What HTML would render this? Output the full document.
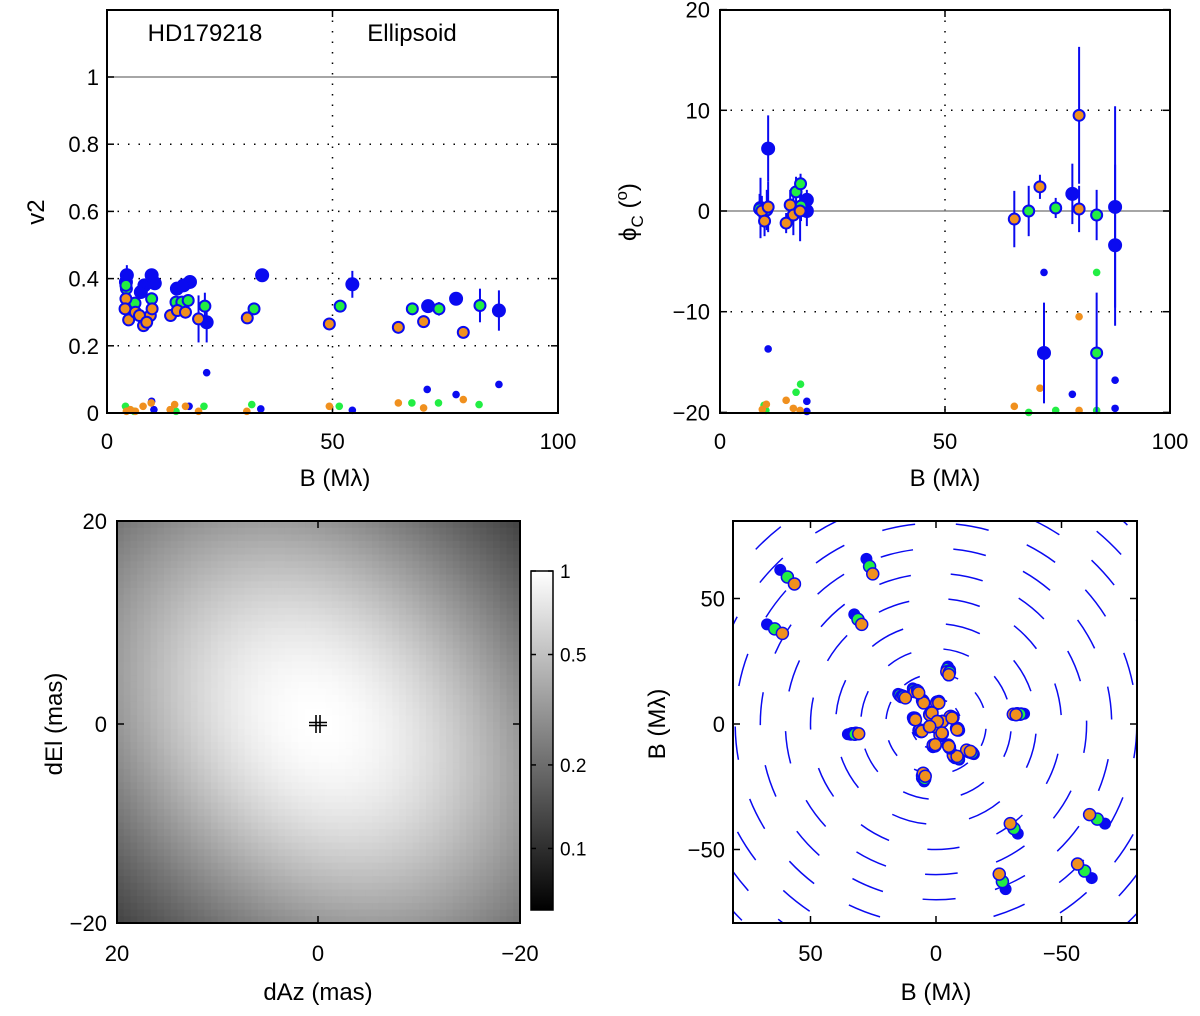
<!DOCTYPE html>
<html><head><meta charset="utf-8">
<style>
html,body{margin:0;padding:0;background:#fff;width:1200px;height:1016px;overflow:hidden;}
svg{position:absolute;left:0;top:0;display:block;font-family:"Liberation Sans",sans-serif;}
</style></head>
<body>
<svg id="fig" width="1200" height="1016" viewBox="0 0 1200 1016" xmlns="http://www.w3.org/2000/svg">
<defs>
<clipPath id="clipUV"><rect x="733" y="521" width="404" height="402"/></clipPath>
<linearGradient id="cbar" x1="0" y1="1" x2="0" y2="0">
<stop offset="0" stop-color="#000"/><stop offset="1" stop-color="#fff"/>
</linearGradient>
</defs>
</svg>
<script>
// ---------- Panel 1 data (V2 vs B) ----------
const v2BlueB   = [4.4,9.9,10.6,8.3,18.4,15.5,17.0,22.1,34.4,54.4,71.2,77.4,86.9,4.2,7.5];
const v2BlueV   = [0.41,0.41,0.386,0.38,0.39,0.37,0.38,0.27,0.41,0.383,0.318,0.34,0.305,0.39,0.36];
const v2BlueE   = [0.03,0.02,0.02,0.01,0.01,0.01,0.01,0.06,0.02,0.04,0.02,0.02,0.06,0.01,0.01];
const v2GreenB  = [4.3,4.2,6.2,9.9,15.3,16.6,18.0,21.7,32.6,51.7,67.7,73.6,82.7];
const v2GreenV  = [0.37,0.38,0.327,0.34,0.33,0.33,0.335,0.318,0.31,0.318,0.31,0.31,0.32];
const v2GreenE  = [0.01,0.01,0.01,0.01,0.01,0.01,0.01,0.04,0.01,0.01,0.01,0.02,0.05];
const v2OrangeB = [4.2,4.0,4.8,6.3,8.1,9.6,10.0,14.1,15.6,17.4,20.3,31.1,49.3,64.6,70.2,79.0,7.2,8.8];
const v2OrangeV = [0.34,0.31,0.277,0.30,0.26,0.29,0.31,0.29,0.305,0.30,0.28,0.283,0.265,0.255,0.272,0.24,0.29,0.27];
const v2OrangeE = [0.01,0.01,0.01,0.01,0.01,0.01,0.01,0.01,0.01,0.01,0.07,0.01,0.01,0.01,0.01,0.01,0.01,0.01];
const v2BlueSmB   = [22.1,71.0,77.4,86.9,34.1,54.4,9.9,18.2,10.4];
const v2BlueSmV   = [0.12,0.07,0.055,0.085,0.012,0.008,0.035,0.02,0.01];
const v2GreenSmB  = [4.1,21.5,32.1,51.5,67.6,73.5,82.5,15.3,6.0];
const v2GreenSmV  = [0.02,0.02,0.025,0.02,0.03,0.03,0.025,0.005,0.005];
const v2OrangeSmB = [4.3,6.3,8.0,9.8,15.0,17.4,20.3,31.0,49.3,64.6,70.2,79.0,5.2,14.0];
const v2OrangeSmV = [0.005,0.005,0.02,0.03,0.025,0.02,0.005,0.005,0.02,0.03,0.015,0.04,0.01,0.01];
const v2XTicks = [0,50,100];
const v2YTicks = [0,0.2,0.4,0.6,0.8,1];
const v2YTickLabels = ["0","0.2","0.4","0.6","0.8","1"];

// ---------- Panel 2 data (closure phase vs B) ----------
const cpBlueB   = [10.7,72.0,78.3,87.8,87.8,19.3,19.3,9.0];
const cpBlueV   = [6.2,-14.1,1.7,0.4,-3.4,1.1,0.0,0.3];
const cpBlueE   = [3.3,5.0,3.0,10.0,8.0,1.0,1.5,3.0];
const cpGreenB  = [16.9,17.9,68.6,74.6,83.7,83.7,10.4,18.0,8.8];
const cpGreenV  = [1.9,2.7,0.0,0.3,-0.4,-14.1,0.1,0.5,0.2];
const cpGreenE  = [1.5,1.0,2.5,1.0,2.5,6.0,2.0,1.5,1.5];
const cpOrangeB = [9.3,9.9,10.7,14.7,15.6,16.3,17.8,65.4,71.1,79.8,79.8];
const cpOrangeV = [0.0,-1.0,0.4,-1.2,0.6,-0.4,0.0,-0.8,2.4,9.5,0.2];
const cpOrangeE = [1.5,1.5,2.5,1.0,1.5,2.0,3.0,2.8,1.2,6.8,2.3];
const cpBlueSmB   = [10.7,72.0,78.3,87.8,87.8,19.3,19.3];
const cpBlueSmV   = [-13.7,-6.1,-18.2,-16.8,-19.6,-18.9,-19.9];
const cpGreenSmB  = [9.8,16.9,17.9,68.6,74.6,83.7,83.7,10.2];
const cpGreenSmV  = [-19.3,-18.0,-17.2,-20.0,-19.8,-6.1,-19.8,-19.8];
const cpOrangeSmB = [9.4,10.3,14.7,16.3,17.8,65.4,71.1,79.8,79.8];
const cpOrangeSmV = [-19.7,-19.2,-18.8,-19.6,-19.8,-19.4,-17.6,-10.5,-19.8];
const cpXTicks = [0,50,100];
const cpYTicks = [-20,-10,0,10,20];

// ---------- Panel 4 data (uv coverage, orange-channel positions) ----------
const uvU = [56.4,25.2,61.2,29.6,13.7,8.4,5.1,-0.3,2.4,-5.6,-8.2,8.4,6.4,-1.6,1.1,-4.9,-6.9,-12.2,5.1,-30.8,31.9,-4.3,0.5,-2.5];
const uvV = [55.8,59.8,36.1,39.7,10.9,12.9,8.9,8.2,3.6,2.9,-1.7,2.3,-2.4,-4.4,-8.4,-8.4,-12.4,-10.4,-19.6,3.9,-3.7,20.8,-1.0,1.0];
const uvScale = [1.0,1.05,1.10];
const uvRings = [10,20,30,40,50,60,70,80,90,100,110];
const uvTicks = [50,0,-50];
const uvTickLabels = ["50","0","\u221250"];

const cbTicks = [1,0.5,0.2,0.1];
const cbTickLabels = ["1","0.5","0.2","0.1"];

const NS = "http://www.w3.org/2000/svg";
const svg = document.getElementById("fig");
function mk(tag, attrs, parent){
  const e = document.createElementNS(NS, tag);
  for (const k in attrs) e.setAttribute(k, attrs[k]);
  (parent||svg).appendChild(e);
  return e;
}
const BLUE="#0a0af0", GREEN="#22ee44", ORANGE="#f0901e";

const p1x = b => 107 + b*4.51;
const p1y = v => 413 - v*336;
const p2x = b => 720 + b*4.5;
const p2y = v => 211 - v*10.07;
const p4x = u => 936 - u*2.51;
const p4y = v => 724 - v*2.51;

function text(x,y,s,anchor,size,name,rot){
  const t = mk("text",{x:x,y:y,"text-anchor":anchor||"middle","font-size":size||22,fill:"#000"});
  
  
  if(rot) t.setAttribute("transform","rotate(-90 "+x+" "+y+")");
  t.textContent = s;
  return t;
}
function frame(x0,y0,x1,y1,name){
  const r = mk("rect",{x:x0,y:y0,width:x1-x0,height:y1-y0,fill:"none",stroke:"#000","stroke-width":2});
  
  
}
function dotted(x1,y1,x2,y2){
  const l = mk("line",{x1:x1,y1:y1,x2:x2,y2:y2,stroke:"#000","stroke-width":1.5,"stroke-dasharray":"1.5 9"});
  
  
}
function tick(x1,y1,x2,y2){
  const l = mk("line",{x1:x1,y1:y1,x2:x2,y2:y2,stroke:"#000","stroke-width":1.5});
  
  
}
function errbar(x,y1,y2){
  const l = mk("line",{x1:x,y1:y1,x2:x,y2:y2,stroke:BLUE,"stroke-width":2});
  
  
}
function big(x,y,fill,name){
  const c = mk("circle",{cx:x,cy:y,r:fill===BLUE?6:5.5,fill:fill,stroke:BLUE,"stroke-width":2});
  
  
}
function small(x,y,fill,name){
  const c = mk("circle",{cx:x,cy:y,r:3.8,fill:fill});
  
  
}

// ================= Panel 1 =================
(function(){
  const x0=107,x1=558,y0=10,y1=413;
  [0.2,0.4,0.6,0.8].forEach(v=>dotted(x0,p1y(v),x1,p1y(v)));
  dotted(p1x(50),y0,p1x(50),y1);
  const ref = mk("line",{x1:x0,y1:p1y(1),x2:x1,y2:p1y(1),stroke:"#888","stroke-width":1.5});
  
  
  v2YTicks.forEach((v,i)=>{tick(x0,p1y(v),x0+7,p1y(v));tick(x1,p1y(v),x1-7,p1y(v));text(x0-8,p1y(v)+8,v2YTickLabels[i],"end",22,'y-tick-label');});
  v2XTicks.forEach(b=>{tick(p1x(b),y1,p1x(b),y1-7);tick(p1x(b),y0,p1x(b),y0+7);text(p1x(b),y1+36,String(b),"middle",22,'x-tick-label');});
  v2GreenSmB.forEach((b,i)=>small(p1x(b),p1y(v2GreenSmV[i]),GREEN,'v2-green-point'));
  v2BlueSmB.forEach((b,i)=>small(p1x(b),p1y(v2BlueSmV[i]),BLUE,'v2-blue-point'));
  v2OrangeSmB.forEach((b,i)=>small(p1x(b),p1y(v2OrangeSmV[i]),ORANGE,'v2-orange-point'));
  v2BlueB.forEach((b,i)=>errbar(p1x(b),p1y(v2BlueV[i]-v2BlueE[i]),p1y(v2BlueV[i]+v2BlueE[i])));
  v2GreenB.forEach((b,i)=>errbar(p1x(b),p1y(v2GreenV[i]-v2GreenE[i]),p1y(v2GreenV[i]+v2GreenE[i])));
  v2OrangeB.forEach((b,i)=>errbar(p1x(b),p1y(v2OrangeV[i]-v2OrangeE[i]),p1y(v2OrangeV[i]+v2OrangeE[i])));
  v2BlueB.forEach((b,i)=>big(p1x(b),p1y(v2BlueV[i]),BLUE,'v2-blue-marker'));
  v2GreenB.forEach((b,i)=>big(p1x(b),p1y(v2GreenV[i]),GREEN,'v2-green-marker'));
  v2OrangeB.forEach((b,i)=>big(p1x(b),p1y(v2OrangeV[i]),ORANGE,'v2-orange-marker'));
  frame(x0,y0,x1,y1,'v2-plot-frame');
  text(205,41,"HD179218","middle",24,'star-name-label');
  text(412,41,"Ellipsoid","middle",24,'model-name-label');
  text(335,486,"B (M\u03bb)","middle",24,'v2-x-axis-title');
  text(44,212,"v2","middle",24,'v2-y-axis-title',true);
})();

// ================= Panel 2 =================
(function(){
  const x0=720,x1=1170,y0=10,y1=413;
  [10,-10].forEach(v=>dotted(x0,p2y(v),x1,p2y(v)));
  dotted(p2x(50),y0,p2x(50),y1);
  const ref = mk("line",{x1:x0,y1:p2y(0),x2:x1,y2:p2y(0),stroke:"#888","stroke-width":1.5});
  
  
  cpYTicks.forEach(v=>{tick(x0,p2y(v),x0+7,p2y(v));tick(x1,p2y(v),x1-7,p2y(v));text(x0-10,p2y(v)+8,v<0?"\u2212"+(-v):String(v),"end",22,'y-tick-label');});
  cpXTicks.forEach(b=>{tick(p2x(b),y1,p2x(b),y1-7);tick(p2x(b),y0,p2x(b),y0+7);text(p2x(b),y1+36,String(b),"middle",22,'x-tick-label');});
  cpGreenSmB.forEach((b,i)=>small(p2x(b),p2y(cpGreenSmV[i]),GREEN,'cp-green-point'));
  cpBlueSmB.forEach((b,i)=>small(p2x(b),p2y(cpBlueSmV[i]),BLUE,'cp-blue-point'));
  cpOrangeSmB.forEach((b,i)=>small(p2x(b),p2y(cpOrangeSmV[i]),ORANGE,'cp-orange-point'));
  const cl = v=>Math.max(-20,Math.min(20,v));
  cpBlueB.forEach((b,i)=>errbar(p2x(b),p2y(cl(cpBlueV[i]-cpBlueE[i])),p2y(cl(cpBlueV[i]+cpBlueE[i]))));
  cpGreenB.forEach((b,i)=>errbar(p2x(b),p2y(cl(cpGreenV[i]-cpGreenE[i])),p2y(cl(cpGreenV[i]+cpGreenE[i]))));
  cpOrangeB.forEach((b,i)=>errbar(p2x(b),p2y(cl(cpOrangeV[i]-cpOrangeE[i])),p2y(cl(cpOrangeV[i]+cpOrangeE[i]))));
  cpBlueB.forEach((b,i)=>big(p2x(b),p2y(cpBlueV[i]),BLUE,'cp-blue-marker'));
  cpGreenB.forEach((b,i)=>big(p2x(b),p2y(cpGreenV[i]),GREEN,'cp-green-marker'));
  cpOrangeB.forEach((b,i)=>big(p2x(b),p2y(cpOrangeV[i]),ORANGE,'cp-orange-marker'));
  frame(x0,y0,x1,y1,'cp-plot-frame');
  text(945,486,"B (M\u03bb)","middle",24,'cp-x-axis-title');
  const t = mk("text",{x:636,y:212,"text-anchor":"middle","font-size":24,transform:"rotate(-90 636 212)"});
  
  
  t.innerHTML = '\u03d5<tspan font-size="17" dy="7">C</tspan><tspan dy="-7"> (</tspan><tspan font-size="17" dy="-9">o</tspan><tspan dy="9">)</tspan>';
})();

// ================= Panel 3 (image) =================
(function(){
  const x0=117,x1=520,y0=521,y1=923,n=60;
  const cw=(x1-x0)/n, ch=(y1-y0)/n;
  const g = mk("g",{});
  
  
  for(let i=0;i<n;i++)for(let j=0;j<n;j++){
    const px=-20+(i+0.5)*40/n, py=-20+(j+0.5)*40/n;
    const a=(px+py)/Math.SQRT2, c=(px-py)/Math.SQRT2;
    const b=Math.exp(-(a*a/1030+c*c/600));
    const gv=Math.round(255*b);
    const r=mk("rect",{x:(x0+i*cw).toFixed(2),y:(y0+j*ch).toFixed(2),width:(cw+0.6).toFixed(2),height:(ch+0.6).toFixed(2),fill:`rgb(${gv},${gv},${gv})`},g);
    
    
  }
  const cx=318,cy=724;
  [[cx-2,cy-9,cx-2,cy+9],[cx+2,cy-9,cx+2,cy+9],[cx-9,cy-1.5,cx+9,cy-1.5],[cx-9,cy+1.5,cx+9,cy+1.5]].forEach(a=>{
    const l=mk("line",{x1:a[0],y1:a[1],x2:a[2],y2:a[3],stroke:"#000","stroke-width":1.6});
    
    
  });
  [[20,y0],[0,724],[-20,y1]].forEach(a=>{tick(x0,a[1],x0+7,a[1]);tick(x1,a[1],x1-7,a[1]);text(x0-10,a[1]+8,a[0]<0?"\u221220":String(a[0]),"end",22,'y-tick-label');});
  [[20,x0],[0,318],[-20,x1]].forEach(a=>{tick(a[1],y1,a[1],y1-7);tick(a[1],y0,a[1],y0+7);text(a[1],y1+38,a[0]<0?"\u221220":String(a[0]),"middle",22,'x-tick-label');});
  frame(x0,y0,x1,y1,'image-frame');
  text(318,1000,"dAz (mas)","middle",24,'image-x-axis-title');
  text(62,724,"dEl (mas)","middle",24,'image-y-axis-title',true);
  const cb=mk("rect",{x:531,y:571,width:22,height:339,fill:"url(#cbar)",stroke:"#000","stroke-width":1.5});
  
  
  const vmin=0.06, cby=v=>910-339*Math.log(v/vmin)/Math.log(1/vmin);
  cbTicks.forEach((v,i)=>{tick(531,cby(v),536,cby(v));tick(553,cby(v),548,cby(v));text(560,cby(v)+7,cbTickLabels[i],"start",19,'colorbar-tick-label');});
})();

// ================= Panel 4 (uv) =================
(function(){
  const x0=733,x1=1137,y0=521,y1=923;
  const g=mk("g",{"clip-path":"url(#clipUV)"});
  
  
  uvRings.forEach(r=>{
    const rp=r*2.51, circ=2*Math.PI*rp, nd=Math.max(8,Math.round(circ/75));
    const c=mk("circle",{cx:p4x(0),cy:p4y(0),r:rp,fill:"none",stroke:BLUE,"stroke-width":1.5,"stroke-dasharray":`${(circ/nd*0.45).toFixed(2)} ${(circ/nd*0.55).toFixed(2)}`,"stroke-dashoffset":(r*3.7).toFixed(1)},g);
    
    
  });
  const cols=[ORANGE,GREEN,BLUE];
  [1,-1].forEach(sg=>{
    uvU.forEach((u,i)=>{
      const v=uvV[i];
      for(let k=2;k>=0;k--){
        const c=mk("circle",{cx:p4x(sg*u*uvScale[k]),cy:p4y(sg*v*uvScale[k]),r:6,fill:cols[k],stroke:BLUE,"stroke-width":k==2?0:1.5},g);
        
        
      }
    });
  });
  uvTicks.forEach((v,i)=>{
    tick(x0,p4y(v),x0+7,p4y(v));tick(x1,p4y(v),x1-7,p4y(v));
    text(x0-8,p4y(v)+8,uvTickLabels[i],"end",22,'y-tick-label');
    tick(p4x(v),y1,p4x(v),y1-7);tick(p4x(v),y0,p4x(v),y0+7);
    text(p4x(v),y1+38,uvTickLabels[i],"middle",22,'x-tick-label');
  });
  frame(x0,y0,x1,y1,'uv-plot-frame');
  text(936,1000,"B (M\u03bb)","middle",24,'uv-x-axis-title');
  text(665,724,"B (M\u03bb)","middle",24,'uv-y-axis-title',true);
})();
</script>
</body></html>
